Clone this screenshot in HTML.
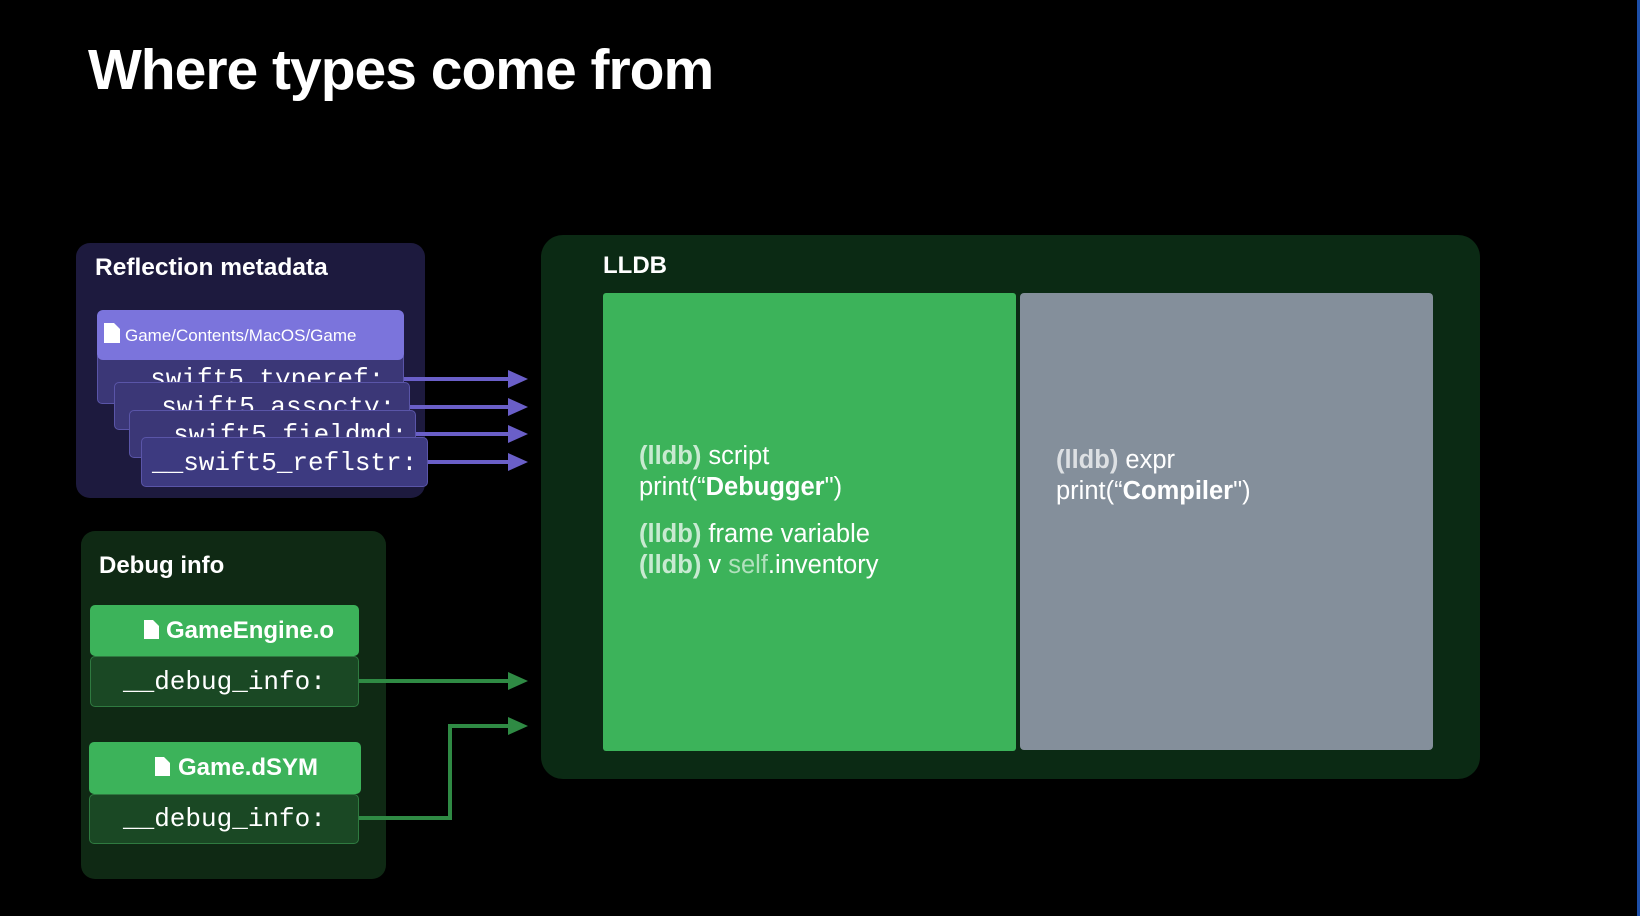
<!DOCTYPE html>
<html><head><meta charset="utf-8"><style>
*{margin:0;padding:0;box-sizing:border-box}
body{width:1640px;height:916px;background:#000;position:relative;overflow:hidden;font-family:"Liberation Sans",sans-serif;color:#fff}
.a{position:absolute}
.mono{font-family:"Liberation Mono",monospace;font-size:26px;color:#fff;white-space:nowrap}
.card{position:absolute;background:#3b3777;border:1px solid #5a55a8;border-radius:5px;overflow:hidden;padding-left:14px}
.t{font-size:25.5px;line-height:31px}
.dim{color:rgba(255,255,255,0.72);font-weight:bold}
</style></head><body>
<div class="a" style="left:88px;top:37px;font-size:57px;font-weight:bold;letter-spacing:-1px">Where types come from</div>
<div class="a" style="right:0;top:0;width:3px;height:916px;background:#1d4fa8"></div>

<!-- Reflection -->
<div class="a" style="left:76px;top:243px;width:349px;height:255px;background:#1d1a3e;border-radius:14px"></div>
<div class="a" style="left:95px;top:254px;font-size:24.5px;font-weight:bold">Reflection metadata</div>
<div class="card mono" style="left:97px;top:352px;width:307px;height:52px;line-height:52px;padding-left:21px">__swift5_typeref:</div>
<div class="card mono" style="left:114px;top:382px;width:296px;height:48px;line-height:48px;padding-left:15px">__swift5_assocty:</div>
<div class="card mono" style="left:129px;top:410px;width:287px;height:48px;line-height:48px;padding-left:12px">__swift5_fieldmd:</div>
<div class="card mono" style="left:141px;top:437px;width:287px;height:50px;line-height:50px;padding-left:10px;background:#3d3a80">__swift5_reflstr:</div>
<div class="a" style="left:97px;top:310px;width:307px;height:50px;background:#7b74dc;border-radius:6px;font-size:17px;line-height:52px;padding-left:28px">Game/Contents/MacOS/Game</div>
<svg class="a" style="left:104px;top:323px" width="16" height="20"><path d="M0 0H10L16 6V20H0Z" fill="#fff"/></svg>

<!-- Debug -->
<div class="a" style="left:81px;top:531px;width:305px;height:348px;background:#0f2914;border-radius:14px"></div>
<div class="a" style="left:99px;top:552px;font-size:24px;font-weight:bold">Debug info</div>
<div class="a" style="left:90px;top:605px;width:269px;height:51px;background:#3cb35a;border-radius:5px;font-size:24px;font-weight:bold;line-height:51px;padding-left:76px">GameEngine.o</div>
<svg class="a" style="left:144px;top:620px" width="15" height="19"><path d="M0 0H9L15 6V19H0Z" fill="#fff"/></svg>
<div class="a mono" style="left:90px;top:656px;width:269px;height:51px;background:#1a4824;border:1px solid #2f7a40;border-radius:5px;line-height:50px;padding-left:32px">__debug_info:</div>
<div class="a" style="left:89px;top:742px;width:272px;height:52px;background:#3cb35a;border-radius:5px;font-size:24px;font-weight:bold;line-height:52px;padding-left:89px">Game.dSYM</div>
<svg class="a" style="left:155px;top:757px" width="15" height="19"><path d="M0 0H9L15 6V19H0Z" fill="#fff"/></svg>
<div class="a mono" style="left:89px;top:794px;width:270px;height:50px;background:#1a4824;border:1px solid #2f7a40;border-radius:5px;line-height:49px;padding-left:33px">__debug_info:</div>

<!-- arrows -->
<svg class="a" style="left:0;top:0" width="1640" height="916">
<g stroke="#6a5fc8" stroke-width="4" fill="#6a5fc8">
<line x1="404" y1="379" x2="512" y2="379"/><path d="M508 370L528 379L508 388Z" stroke="none"/>
<line x1="410" y1="407" x2="512" y2="407"/><path d="M508 398L528 407L508 416Z" stroke="none"/>
<line x1="416" y1="434" x2="512" y2="434"/><path d="M508 425L528 434L508 443Z" stroke="none"/>
<line x1="428" y1="462" x2="512" y2="462"/><path d="M508 453L528 462L508 471Z" stroke="none"/>
</g>
<g stroke="#2f8a44" stroke-width="4" fill="none">
<line x1="359" y1="681" x2="512" y2="681"/>
<polyline points="359,818 450,818 450,726 512,726"/>
</g>
<g fill="#2f8a44"><path d="M508 672L528 681L508 690Z"/><path d="M508 717L528 726L508 735Z"/></g>
</svg>

<!-- LLDB -->
<div class="a" style="left:541px;top:235px;width:939px;height:544px;background:#0b2a14;border-radius:22px"></div>
<div class="a" style="left:603px;top:252px;font-size:24px;font-weight:bold">LLDB</div>
<div class="a" style="left:603px;top:293px;width:413px;height:458px;background:#3cb35a;border-radius:3px"></div>
<div class="a" style="left:1020px;top:293px;width:413px;height:457px;background:#848f9b;border-radius:4px"></div>
<div class="a t" style="left:639px;top:441px"><span class="dim">(lldb)</span> script<br>print(“<b>Debugger</b>")</div>
<div class="a t" style="left:639px;top:519px"><span class="dim">(lldb)</span> frame variable<br><span class="dim">(lldb)</span> v <span style="color:rgba(255,255,255,0.6)">self</span>.inventory</div>
<div class="a t" style="left:1056px;top:445px"><span class="dim">(lldb)</span> expr<br>print(“<b>Compiler</b>")</div>
</body></html>
